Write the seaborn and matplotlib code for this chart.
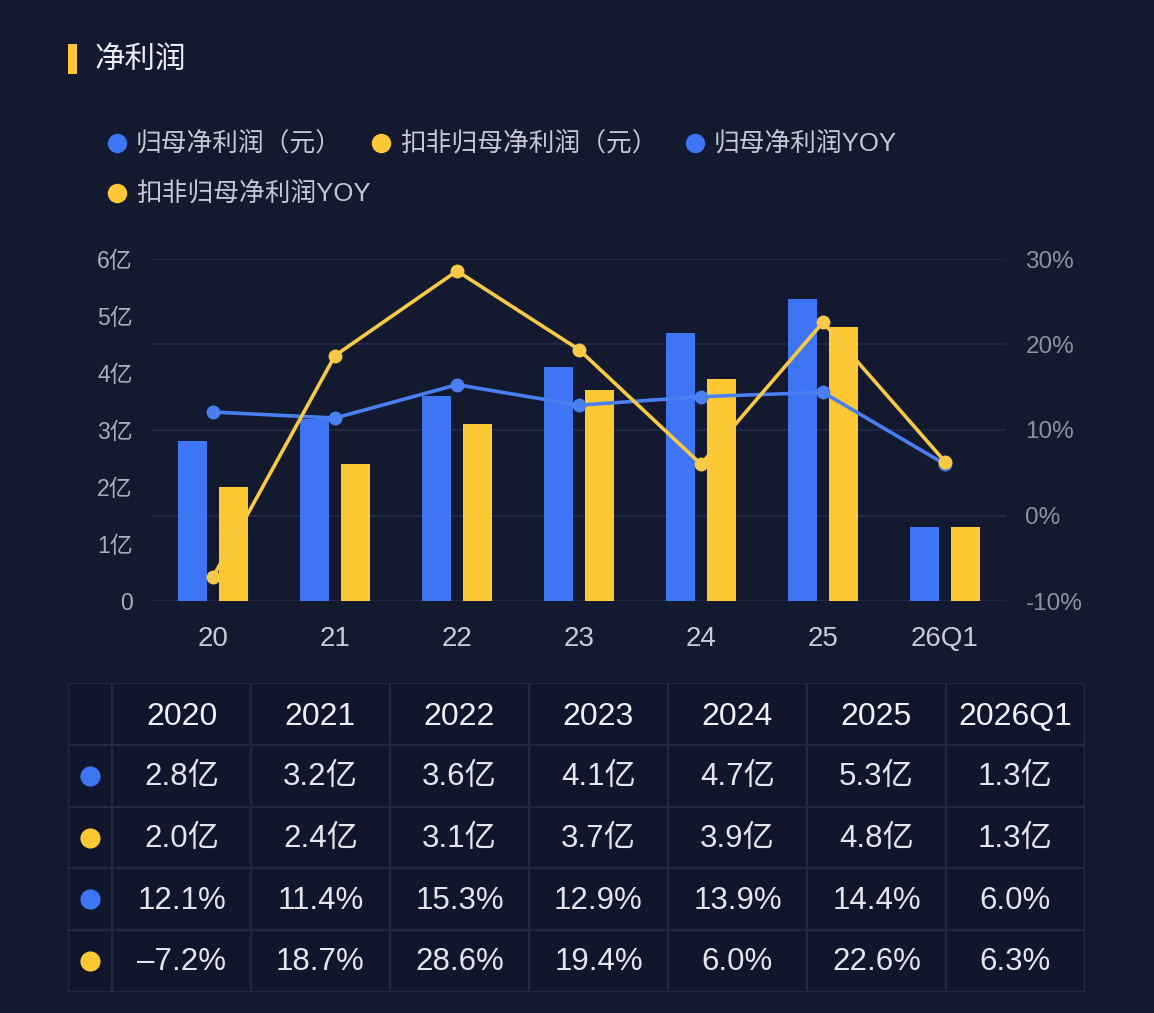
import numpy as np
import pandas as pd
import matplotlib
matplotlib.use('Agg')
import matplotlib.pyplot as plt
from matplotlib.lines import Line2D
import seaborn as sns

# 数据
periods = ['20', '21', '22', '23', '24', '25', '26Q1']
table_periods = ['2020', '2021', '2022', '2023', '2024', '2025', '2026Q1']
np_parent = [2.8, 3.2, 3.6, 4.1, 4.7, 5.3, 1.3]        # 归母净利润（亿元）
np_deducted = [2.0, 2.4, 3.1, 3.7, 3.9, 4.8, 1.3]      # 扣非归母净利润（亿元）
yoy_parent = [12.1, 11.4, 15.3, 12.9, 13.9, 14.4, 6.0]
yoy_deducted = [-7.2, 18.7, 28.6, 19.4, 6.0, 22.6, 6.3]
series_names = ['归母净利润（元）', '扣非归母净利润（元）', '归母净利润YOY', '扣非归母净利润YOY']
left_ticks = [0, 1, 2, 3, 4, 5, 6]
left_labels = ['0', '1亿', '2亿', '3亿', '4亿', '5亿', '6亿']
right_ticks = [-10, 0, 10, 20, 30]

# 颜色
BG = '#131a2f'
BLUE = '#3e75f5'
YELLOW = '#fec734'
BLUE_L = '#4a7ff2'
YELLOW_L = '#f7c944'
GRID = '#232b45'

sns.set_theme(style='dark')
plt.rcParams['font.family'] = ['Liberation Sans', 'Noto Sans CJK SC', 'DejaVu Sans']
plt.rcParams['axes.unicode_minus'] = False

W, H = 1154, 1013
fig = plt.figure(figsize=(W / 100, H / 100), dpi=100, facecolor=BG)

def fx(px):
    return px / W

def fy(py):
    return 1 - py / H

# 标题
fig.patches.append(plt.Rectangle((fx(68), fy(74)), fx(9), 30 / H, transform=fig.transFigure,
                                 facecolor=YELLOW, edgecolor='none'))
fig.text(fx(95), fy(60), '净利润', color='#eceef3', fontsize=22, fontweight='medium', va='center')

# 图例
legend_pos = [(117, 143), (381, 143), (695, 143), (117, 193)]
legend_cols = [BLUE, YELLOW, BLUE, YELLOW]
for (lx, ly), name, c in zip(legend_pos, series_names, legend_cols):
    fig.add_artist(Line2D([fx(lx)], [fy(ly)], marker='o', markersize=14, color=c,
                          markeredgewidth=0, transform=fig.transFigure))
    fig.text(fx(lx + 19), fy(ly), name, color='#c4c8d3', fontsize=18.5, va='center')

# 主图
ax1 = fig.add_axes([fx(152), fy(601), fx(1006) - fx(152), (601 - 259) / H])
ax1.set_facecolor('none')
bars = pd.DataFrame({
    'period': periods * 2,
    'value': np_parent + np_deducted,
    'series': [series_names[0]] * len(periods) + [series_names[1]] * len(periods),
})
sns.barplot(data=bars, x='period', y='value', hue='series', palette=[BLUE, YELLOW],
            width=0.67, gap=0.27, saturation=1, ax=ax1, legend=False, zorder=2,
            linewidth=0, edgecolor='none')
ax1.set_xlim(-0.5, len(periods) - 0.5)
ax1.set_ylim(0, 6)
ax1.set_yticks(left_ticks)
ax1.set_yticklabels(left_labels)
ax1.set_xlabel('')
ax1.set_ylabel('')
# 网格线对齐右轴刻度
grid_vals = [(t - right_ticks[0]) / (right_ticks[-1] - right_ticks[0]) * 6 for t in right_ticks]
ax1.yaxis.remove_overlapping_locs = False
ax1.set_yticks(grid_vals, minor=True)
ax1.grid(False)
ax1.grid(which='minor', axis='y', color=GRID, linewidth=1.3)
ax1.set_axisbelow(True)
ax1.tick_params(axis='y', which='both', length=0, pad=14, labelsize=16.5, labelcolor='#a9aebb')
ax1.tick_params(axis='x', length=0, pad=18, labelsize=20, labelcolor='#c9ccd6')
for s in ax1.spines.values():
    s.set_visible(False)

ax2 = ax1.twinx()
lines = pd.DataFrame({
    'pos': list(range(len(periods))) * 2,
    'yoy': yoy_parent + yoy_deducted,
    'series': [series_names[2]] * len(periods) + [series_names[3]] * len(periods),
})
sns.lineplot(data=lines, x='pos', y='yoy', hue='series', palette=[BLUE_L, YELLOW_L],
             marker='o', markersize=10, markeredgewidth=0, linewidth=2.6,
             ax=ax2, legend=False, sort=False)
ax2.set_ylim(right_ticks[0], right_ticks[-1])
ax2.set_yticks(right_ticks)
ax2.set_yticklabels([f'{t}%' for t in right_ticks])
ax2.set_xlim(-0.5, len(periods) - 0.5)
ax2.set_xlabel('')
ax2.set_ylabel('')
ax2.grid(False)
ax2.tick_params(axis='y', length=0, pad=14, labelsize=17.5, labelcolor='#8d92a1')
for s in ax2.spines.values():
    s.set_visible(False)

# 表格
col_w = [44] + [139] * len(table_periods)
edges = np.concatenate([[0], np.cumsum(col_w)])
n_rows = 5
ax3 = fig.add_axes([fx(68), fy(992), fx(68 + edges[-1]) - fx(68), (992 - 683) / H])
ax3.set_xlim(0, edges[-1])
ax3.set_ylim(n_rows, 0)
ax3.axis('off')
for r in range(n_rows):
    for c in range(len(col_w)):
        ax3.add_patch(plt.Rectangle((edges[c] + 1.5, r + 0.03), col_w[c] - 3, 0.94,
                                    facecolor='#10172c', edgecolor='none'))
ax3.hlines(range(n_rows + 1), 0, edges[-1], color='#222a45', linewidth=1.4)
ax3.vlines(edges, 0, n_rows, color='#222a45', linewidth=1.4)

centers = (edges[:-1] + edges[1:]) / 2
for c, p in enumerate(table_periods):
    ax3.text(centers[c + 1], 0.55, p, ha='center', va='center', color='#f0f1f5',
             fontsize=23)

rows = [
    ([f'{v:.1f}亿' for v in np_parent], BLUE),
    ([f'{v:.1f}亿' for v in np_deducted], YELLOW),
    ([f'{v:.1f}%' for v in yoy_parent], BLUE),
    ([f'{v:.1f}%'.replace('-', '–') for v in yoy_deducted], YELLOW),
]
for r, (vals, c) in enumerate(rows, start=1):
    ax3.plot(centers[0], r + 0.5, marker='o', markersize=14.5, color=c, markeredgewidth=0)
    for k, v in enumerate(vals):
        ax3.text(centers[k + 1], r + 0.52, v, ha='center', va='center',
                 color='#e4e6ec', fontsize=22.5)

fig.savefig('out.png', dpi=100, facecolor=BG)
